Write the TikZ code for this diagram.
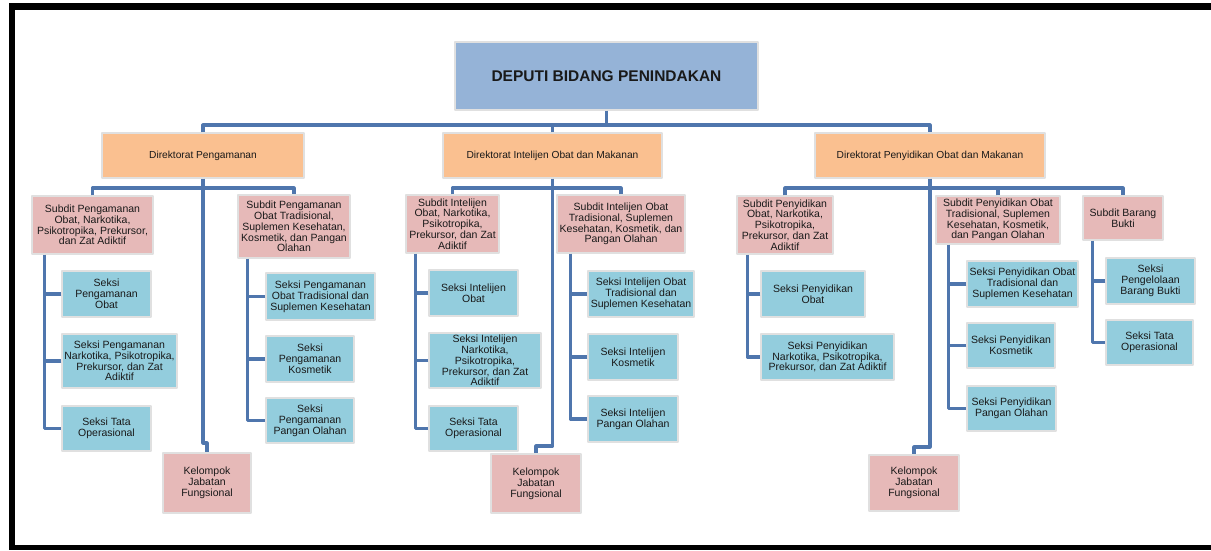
\documentclass[tikz,border=0pt]{standalone}
\usepackage{fontspec}
\setmainfont{Liberation Sans}
\definecolor{cDeputi}{HTML}{95B3D7}
\definecolor{cDir}{HTML}{FAC090}
\definecolor{cSub}{HTML}{E6B9B8}
\definecolor{cSek}{HTML}{93CDDD}
\definecolor{cLink}{HTML}{4F76AD}
\begin{document}
\begin{tikzpicture}[x=1pt,y=-1pt,font=\fontsize{10.5}{10.8}\selectfont,line join=round,
	box/.style={draw=black!12,line width=1.2pt,align=center,inner sep=1pt,text=black!90},
	deputi/.style={box,fill=cDeputi,font=\fontsize{15.5}{18}\selectfont\bfseries},
	direktorat/.style={box,fill=cDir,font=\fontsize{10.2}{12}\selectfont},
	subdit/.style={box,fill=cSub},
	seksi/.style={box,fill=cSek},
	link/.style={draw=cLink,line width=3.2pt}]
	\useasboundingbox (0,0) rectangle (1211,550);
	% bingkai
	\fill[black] (9,3) rectangle (1211,10);
	\fill[black] (9,3) rectangle (15,550);
	\fill[black] (9,545) rectangle (1211,550);
	% puncak
	\node[deputi,minimum width=303,minimum height=68] (dep) at (606.5,76) {DEPUTI BIDANG PENINDAKAN};
	\node[direktorat,minimum width=202,minimum height=45] (dir1) at (203,155.5) {Direktorat Pengamanan};
	\node[direktorat,minimum width=219,minimum height=45] (dir2) at (552.5,155.5) {Direktorat Intelijen Obat dan Makanan};
	\node[direktorat,minimum width=230,minimum height=45] (dir3) at (930,155.5) {Direktorat Penyidikan Obat dan Makanan};
	% Direktorat Pengamanan
	\node[subdit,minimum width=121,minimum height=58] (sa1) at (92.5,225) {Subdit Pengamanan\\Obat, Narkotika,\\Psikotropika, Prekursor,\\dan Zat Adiktif};
	\node[subdit,minimum width=112,minimum height=63] (sa2) at (294,226.5) {Subdit Pengamanan\\Obat Tradisional,\\Suplemen Kesehatan,\\Kosmetik, dan Pangan\\Olahan};
	\node[subdit,minimum width=88,minimum height=60] (kfA) at (207,483) {Kelompok\\Jabatan\\Fungsional};
	\node[seksi,minimum width=89,minimum height=46] (sA1) at (106.5,294) {Seksi\\Pengamanan\\Obat};
	\node[seksi,minimum width=115,minimum height=54] (sA2) at (119.5,361) {Seksi Pengamanan\\Narkotika, Psikotropika,\\Prekursor, dan Zat\\Adiktif};
	\node[seksi,minimum width=89,minimum height=45] (sA3) at (106.5,428.5) {Seksi Tata\\Operasional};
	\node[seksi,minimum width=109,minimum height=47] (tA1) at (320.5,296.5) {Seksi Pengamanan\\Obat Tradisional dan\\Suplemen Kesehatan};
	\node[seksi,minimum width=88,minimum height=46] (tA2) at (310,359) {Seksi\\Pengamanan\\Kosmetik};
	\node[seksi,minimum width=88,minimum height=45] (tA3) at (310,420.5) {Seksi\\Pengamanan\\Pangan Olahan};
	% Direktorat Intelijen
	\node[subdit,minimum width=93,minimum height=58] (sb1) at (452.5,224) {Subdit Intelijen\\Obat, Narkotika,\\Psikotropika,\\Prekursor, dan Zat\\Adiktif};
	\node[subdit,minimum width=128,minimum height=58] (sb2) at (621,224) {Subdit Intelijen Obat\\Tradisional, Suplemen\\Kesehatan, Kosmetik, dan\\Pangan Olahan};
	\node[subdit,minimum width=90,minimum height=59] (kfB) at (536,483.5) {Kelompok\\Jabatan\\Fungsional};
	\node[seksi,minimum width=89,minimum height=46] (sB1) at (473.5,293) {Seksi Intelijen\\Obat};
	\node[seksi,minimum width=112,minimum height=55] (sB2) at (485,360.5) {Seksi Intelijen\\Narkotika,\\Psikotropika,\\Prekursor, dan Zat\\Adiktif};
	\node[seksi,minimum width=89,minimum height=45] (sB3) at (473.5,428.5) {Seksi Tata\\Operasional};
	\node[seksi,minimum width=106,minimum height=46] (tB1) at (641,294) {Seksi Intelijen Obat\\Tradisional dan\\Suplemen Kesehatan};
	\node[seksi,minimum width=90,minimum height=46] (tB2) at (633,357) {Seksi Intelijen\\Kosmetik};
	\node[seksi,minimum width=90,minimum height=46] (tB3) at (633,419) {Seksi Intelijen\\Pangan Olahan};
	% Direktorat Penyidikan
	\node[subdit,minimum width=96,minimum height=58] (sc1) at (785,225) {Subdit Penyidikan\\Obat, Narkotika,\\Psikotropika,\\Prekursor, dan Zat\\Adiktif};
	\node[subdit,minimum width=124,minimum height=48] (sc2) at (998,220) {Subdit Penyidikan Obat\\Tradisional, Suplemen\\Kesehatan, Kosmetik,\\dan Pangan Olahan};
	\node[subdit,minimum width=80,minimum height=44] (sc3) at (1123,218) {Subdit Barang\\Bukti};
	\node[subdit,minimum width=90,minimum height=56] (kfC) at (914,483) {Kelompok\\Jabatan\\Fungsional};
	\node[seksi,minimum width=104,minimum height=46] (sC1) at (813,294) {Seksi Penyidikan\\Obat};
	\node[seksi,minimum width=133,minimum height=46] (sC2) at (827.5,357) {Seksi Penyidikan\\Narkotika, Psikotropika,\\Prekursor, dan Zat Adiktif};
	\node[seksi,minimum width=111,minimum height=46] (tC1) at (1022.5,284) {Seksi Penyidikan Obat\\Tradisional dan\\Suplemen Kesehatan};
	\node[seksi,minimum width=88,minimum height=45] (tC2) at (1011,345.5) {Seksi Penyidikan\\Kosmetik};
	\node[seksi,minimum width=89,minimum height=45] (tC3) at (1011.5,408.5) {Seksi Penyidikan\\Pangan Olahan};
	\node[seksi,minimum width=89,minimum height=46] (uC1) at (1150.5,281) {Seksi\\Pengelolaan\\Barang Bukti};
	\node[seksi,minimum width=87,minimum height=45] (uC2) at (1149.5,342.5) {Seksi Tata\\Operasional};
	% garis
	\coordinate (busTop) at (606.5,125);
	\draw[link] (dep.south) -- (busTop);
	\draw[link] (dir1.north) |- (busTop) -| (dir3.north);
	\draw[link] (dir2.north) -- (dir2.north |- busTop);
	\coordinate (busA) at (203,188);
	\coordinate (busB) at (552.5,188);
	\coordinate (busC) at (930,188);
	\draw[link] (sa1.north) |- (busA) -| (sa2.north);
	\draw[link] (sb1.north) |- (busB) -| (sb2.north);
	\draw[link] (sc1.north) |- (busC) -| (sc3.north);
	\draw[link] (sc2.north) -- (sc2.north |- busC);
	\coordinate (jA) at (203,443);
	\coordinate (jB) at (552.5,446);
	\coordinate (jC) at (930,447);
	\draw[link] (dir1.south) -- (jA) -| (kfA.north);
	\draw[link] (dir2.south) -- (jB) -| (kfB.north);
	\draw[link] (dir3.south) -- (jC) -| (kfC.north);
	\coordinate (ta) at ([xshift=13]sa1.south west);
	\coordinate (tb) at ([xshift=10]sa2.south west);
	\coordinate (tc) at ([xshift=10]sb1.south west);
	\coordinate (td) at ([xshift=14]sb2.south west);
	\coordinate (te) at ([xshift=11]sc1.south west);
	\coordinate (tf) at ([xshift=13]sc2.south west);
	\coordinate (tg) at ([xshift=10]sc3.south west);
	\draw[link] (ta) |- (sA3.west);
	\draw[link] (tb) |- (tA3.west);
	\draw[link] (tc) |- (sB3.west);
	\draw[link] (td) |- (tB3.west);
	\draw[link] (te) |- (sC2.west);
	\draw[link] (tf) |- (tC3.west);
	\draw[link] (tg) |- (uC2.west);
	\foreach \n/\t in {sA1/ta,sA2/ta,tA1/tb,tA2/tb,sB1/tc,sB2/tc,tB1/td,tB2/td,sC1/te,tC1/tf,tC2/tf,uC1/tg}
		\draw[link] (\n.west) -- (\n.west -| \t);
\end{tikzpicture}
\end{document}
